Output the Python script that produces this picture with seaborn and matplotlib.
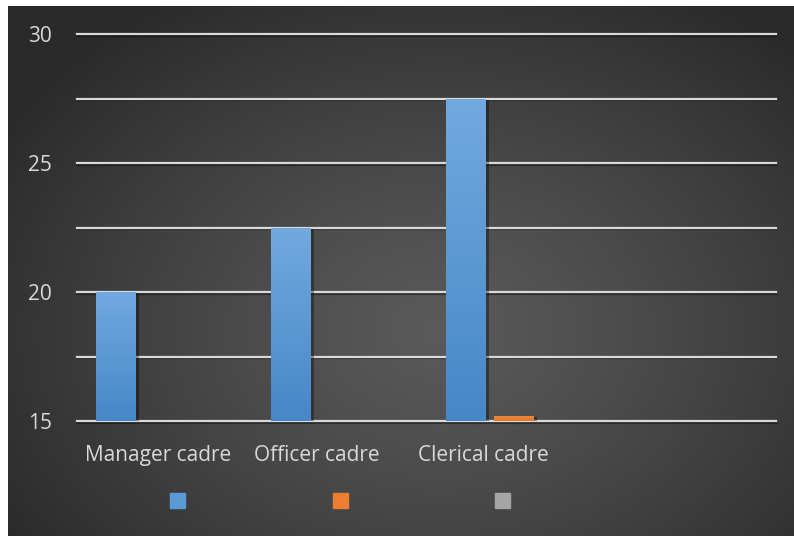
import numpy as np
import pandas as pd
import matplotlib
matplotlib.use("Agg")
import matplotlib.pyplot as plt
import matplotlib.patheffects as pe
from matplotlib.lines import Line2D
from matplotlib.transforms import ScaledTranslation
from matplotlib.colors import to_rgb
import seaborn as sns

# ---- data ----
categories = ["Manager cadre", "Officer cadre", "Clerical cadre", ""]
series_names = ["Series 1", "Series 2", "Series 3"]
series1 = [20.0, 22.5, 27.5, np.nan]
series2 = [np.nan, np.nan, 15.2, np.nan]
series3 = [np.nan, np.nan, np.nan, np.nan]
y_major = [15, 20, 25, 30]
y_minor = [17.5, 22.5, 27.5]

colors = ["#5b9bd5", "#ed7d31", "#a5a5a5"]
top_colors = ["#72a9df", "#f28a42", "#b5b5b5"]
bottom_colors = ["#4687c8", "#e47528", "#999999"]

rows = []
for name, vals in zip(series_names, [series1, series2, series3]):
    for cat, v in zip(categories, vals):
        rows.append({"cadre": cat, "series": name, "value": v})
df = pd.DataFrame(rows).dropna()

plt.rcParams["font.family"] = ["Open Sans", "DejaVu Sans"]

W, H = 794, 536
fig = plt.figure(figsize=(W / 100, H / 100), dpi=100, facecolor="white")

# radial gradient backdrop
bg = fig.add_axes([8 / W, 0, (W - 8) / W, (H - 6) / H], zorder=-5)
gx = np.linspace(8, W, 400)
gy = np.linspace(6, H, 300)
X, Y = np.meshgrid(gx, gy)
d = np.sqrt(((X - 440) / 470) ** 2 + ((Y - 330) / 360) ** 2)
t = np.clip(d / 1.1, 0, 1) ** 1.2
c_in = np.array(to_rgb("#5a5a5a"))
c_out = np.array(to_rgb("#2a2a2a"))
img = c_in[None, None, :] * (1 - t[..., None]) + c_out[None, None, :] * t[..., None]
bg.imshow(img, aspect="auto", extent=[0, 1, 0, 1], origin="upper")
bg.axis("off")

ax = fig.add_axes([77 / W, (H - 421) / H, 699 / W, 387 / H])
ax.set_facecolor("none")

sns.barplot(data=df, x="cadre", y="value", hue="series",
            order=categories, hue_order=series_names, palette=colors,
            width=0.824, gap=0.167, dodge=True, legend=False,
            errorbar=None, ax=ax, zorder=3)

ax.set_ylim(15, 30)
ax.set_xlim(-0.5, len(categories) - 0.5)
ax.set_yticks(y_major)
ax.set_xlabel("")
ax.set_ylabel("")

# gradient fill on each visible bar
for ci, cont in enumerate(ax.containers):
    for rect in cont:
        h = rect.get_height()
        if not np.isfinite(h) or h <= 0:
            continue
        x0 = rect.get_x()
        w = rect.get_width()
        y1 = rect.get_y() + h
        y0 = max(rect.get_y(), 15)
        ct = np.array(to_rgb(top_colors[ci]))
        cb = np.array(to_rgb(bottom_colors[ci]))
        s = np.linspace(0, 1, 100)[:, None]
        grad = (ct * (1 - s) + cb * s)[:, None, :]
        rect.set_path_effects([pe.SimplePatchShadow(offset=(2, -1), shadow_rgbFace="black", alpha=0.35), pe.Normal()])
        im = ax.imshow(grad, aspect="auto", extent=[x0, x0 + w, y0, y1],
                       origin="upper", zorder=4)
        im.set_clip_path(rect)

ax.set_xlim(-0.5, len(categories) - 0.5)
ax.set_ylim(15, 30)

# horizontal gridlines at every 2.5
for yv in sorted(y_major + y_minor):
    ax.axhline(yv, color="#d9d9d9", linewidth=1.6, zorder=1, clip_on=False,
               path_effects=[pe.SimpleLineShadow(offset=(0, -1.2), shadow_color="black", alpha=0.4), pe.Normal()])

for sp in ax.spines.values():
    sp.set_visible(False)

ax.tick_params(axis="both", which="both", length=0, colors="#d9d9d9", labelsize=15)
ax.tick_params(axis="y", pad=18)
ax.tick_params(axis="x", pad=17)

# shift category labels slightly left
offsets_px = [-6.4, -22.4, -30.0, 0.0]
for lbl, dx in zip(ax.get_xticklabels(), offsets_px):
    lbl.set_transform(lbl.get_transform() + ScaledTranslation(dx / 100, 0, fig.dpi_scale_trans))

# legend with unlabeled swatches
handles = [Line2D([], [], marker="s", linestyle="", markersize=10.8,
                  markerfacecolor=c, markeredgecolor=c) for c in colors]
fig.legend(handles, ["", "", ""], loc="center", ncol=3, frameon=False,
           bbox_to_anchor=(339.5 / W, 1 - 501.7 / H), fontsize=10,
           handlelength=1.1, handletextpad=0, columnspacing=10.63,
           borderpad=0, borderaxespad=0)

fig.savefig("out.png", dpi=100, facecolor="white")
